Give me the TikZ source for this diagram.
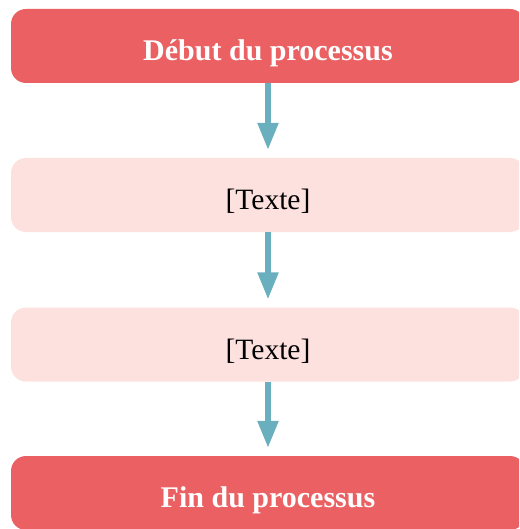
\documentclass[tikz,border=0pt]{standalone}
\usepackage{fontspec}
\setmainfont{Liberation Serif}
\usetikzlibrary{arrows.meta}
\definecolor{boxred}{HTML}{EB6163}
\definecolor{boxpink}{HTML}{FDE1DF}
\definecolor{arrowteal}{HTML}{6AAFBD}
\tikzset{
  basebox/.style={rounded corners=15pt, minimum width=514pt, minimum height=74pt, inner sep=0pt, text height=35pt, text depth=6pt},
  endbox/.style={basebox, fill=boxred, text=white, font=\fontsize{30}{34}\selectfont\bfseries},
  textbox/.style={basebox, fill=boxpink, text=black, font=\fontsize{29.5}{34}\selectfont},
  flowarrow/.style={draw=arrowteal, line width=5.5pt, -{Triangle[length=27pt, width=20pt]}}
}
\begin{document}
\begin{tikzpicture}[x=1pt,y=-1pt]
\useasboundingbox (0,0) rectangle (519,529);
\clip (0,0) rectangle (519,529);
\node[endbox] (start) at (268,46) {Début du processus};
\node[textbox] (t1) at (268,195) {[Texte]};
\node[textbox] (t2) at (268,344.5) {[Texte]};
\node[endbox] (end) at (268,493) {Fin du processus};
\draw[flowarrow] (start.south) -- ([yshift=8pt]t1.north);
\draw[flowarrow] (t1.south) -- ([yshift=8pt]t2.north);
\draw[flowarrow] (t2.south) -- ([yshift=8pt]end.north);
\end{tikzpicture}
\end{document}
